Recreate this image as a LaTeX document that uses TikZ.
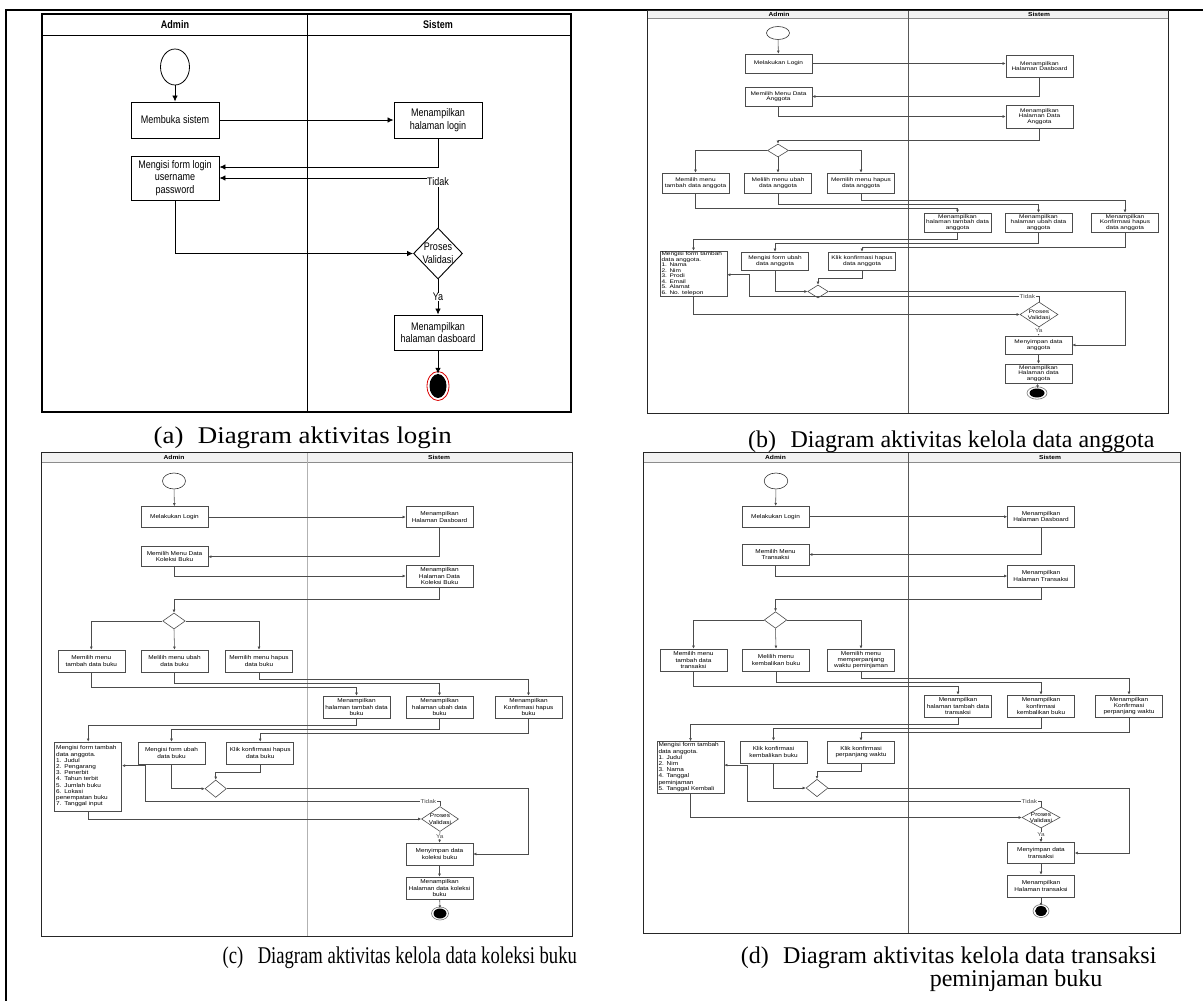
\documentclass[tikz,border=0pt]{standalone}
\usepackage{fontspec}
\setmainfont{Liberation Serif}
\newfontfamily\lanefont[FakeStretch=0.82]{Liberation Sans}
\newfontfamily\tinyfont[FakeStretch=1.15]{Liberation Sans}
\newfontfamily\squatfont[FakeStretch=1.25]{Liberation Sans}
\newfontfamily\capfont[FakeStretch=0.776]{Liberation Serif}
\newfontfamily\capwide[FakeStretch=1.12]{Liberation Serif}
\usetikzlibrary{shapes.geometric,arrows.meta,calc}

\begin{document}
\begin{tikzpicture}[x=1pt, y=-1pt,
  fa/.style={font=\lanefont\fontsize{11}{12.8}\selectfont},
  hdra/.style={font=\lanefont\bfseries\fontsize{11}{12}\selectfont},
  hdrs/.style={font=\tinyfont\bfseries\fontsize{5.8}{6}\selectfont, inner sep=0pt},
  act/.style={draw, line width=0.9pt, minimum width=88pt, minimum height=36pt,
              inner sep=1pt, align=center, fa},
  sact/.style={draw=black!70, line width=0.6pt, minimum width=67pt,
               minimum height=21pt, inner sep=1pt, align=center},
  form/.style={sact, align=left, text width=64pt, inner sep=1.5pt},
  choice/.style={diamond, draw=black!70, line width=0.6pt, inner sep=-6pt, align=center},
  initnode/.style={ellipse, draw=black!80, line width=0.6pt, inner sep=0pt},
  finalnode/.style={ellipse, fill=black, inner sep=0pt},
  lbl/.style={fill=white, inner sep=0.6pt},
  slbl/.style={lbl, font=\tinyfont\fontsize{5.6}{6}\selectfont},
  arr/.style={-{Latex[length=6pt,width=5.5pt]}, line width=0.8pt},
  sarr/.style={-{Latex[length=3pt,width=2.8pt]}, line width=0.55pt, black!70},
  captxt/.style={anchor=base west, inner sep=0pt, font=\fontsize{24}{23}\selectfont}
]
\useasboundingbox (0,0) rectangle (1203,1001);
% ---- outer table frame ----
\draw[line width=1.3pt] (6,1001) -- (6,10) -- (1203,10);

% ---- (a) login ----
\draw[line width=1.2pt] (42,14) rectangle (571,412);
\draw[line width=0.8pt] (42,35) -- (571,35);
\draw[line width=0.8pt] (307,14) -- (307,412);
\node[hdra] (a-admin) at (175,25) {Admin};
\node[hdra] (a-sistem) at (438,25) {Sistem};
\node[initnode, draw=black, line width=0.8pt, minimum width=29pt, minimum height=36pt] (a-start) at (175,67) {};
\node[act] (a-buka) at (175,120) {Membuka sistem};
\node[act] (a-login) at (438,120) {Menampilkan\\halaman login};
\node[act, minimum height=44pt] (a-isi) at (175,178) {Mengisi form login\\username\\password};
\node[choice, draw=black, line width=0.9pt, fa, minimum width=49pt, minimum height=51pt] (a-valid) at (438,253.5) {Proses\\Validasi};
\node[act, minimum height=35pt] (a-dash) at (438,332.5) {Menampilkan\\halaman dasboard};
\node[finalnode, minimum width=17pt, minimum height=24pt] (a-end) at (438,386) {};
\draw[red!85!black, line width=0.8pt] (a-end.center) ellipse [x radius=11, y radius=14.5];
\draw[arr] (a-start) -- (a-buka);
\draw[arr] (a-buka) -- (a-login);
\draw[arr] (a-login.south) |- ($(a-isi.east)+(0,-11)$);
\draw[arr] (a-valid.north) |- node[lbl, fa, pos=0.46] (a-tidak) {Tidak} (a-isi.east);
\draw[arr] (a-isi.south) |- (a-valid.west);
\draw[arr] (a-valid) -- node[lbl, fa] (a-ya) {Ya} (a-dash);
\draw[arr] (a-dash) -- (a-end);

% ---- lanes of (b), (c), (d) ----
\foreach \p/\xl/\xr/\yt/\yb/\xm/\yh/\ax/\sx/\dc in
  {b/647/1168/10/413/908/18/779/1039/black!65,
   c/41/572/452/936/307/462/174/439/black!30,
   d/643/1180/452/933/908/462/775.5/1050/black!65}{
  \fill[black!5] (\xl,\yt) rectangle (\xr,\yh);
  \draw[black!45] (\xl,\yh) -- (\xr,\yh);
  \draw[\dc, line width=0.8pt] (\xm,\yt) -- (\xm,\yb);
  \draw[black!85, line width=0.9pt] (\xl,\yt) rectangle (\xr,\yb);
  \node[hdrs] (\p-admin) at ({\ax},{(\yt+\yh)/2}) {Admin};
  \node[hdrs] (\p-sistem) at ({\sx},{(\yt+\yh)/2}) {Sistem};
}

% ---- (b) kelola data anggota ----
\begin{scope}[font=\squatfont\fontsize{5.2}{5.5}\selectfont]
\node[initnode, minimum width=23pt, minimum height=13pt] (b-start) at (778,33) {};
\node[sact, minimum height=19pt] (b-login) at (778.5,63.5) {Melakukan Login};
\node[sact, minimum height=22pt] (b-dash) at (1039.5,66) {Menampilkan\\Halaman Dasboard};
\node[sact, minimum height=19pt] (b-menu) at (778.5,96.5) {Memilih Menu Data\\Anggota};
\node[sact, minimum height=23pt] (b-data) at (1039.5,116.5) {Menampilkan\\Halaman Data\\Anggota};
\node[choice, minimum width=21pt, minimum height=13pt] (b-dec) at (778,150.5) {};
\node[sact, minimum height=20pt] (b-opt1) at (695.5,183) {Memilih menu\\tambah data anggota};
\node[sact, minimum height=20pt] (b-opt2) at (778,183) {Melilih menu ubah\\data anggota};
\node[sact, minimum height=20pt] (b-opt3) at (861,183) {Memilih menu hapus\\data anggota};
\node[sact, minimum height=19pt] (b-show1) at (957.5,222.5) {Menampilkan\\halaman tambah data\\anggota};
\node[sact, minimum height=19pt] (b-show2) at (1038.5,222.5) {Menampilkan\\halaman ubah data\\anggota};
\node[sact, minimum height=19pt] (b-show3) at (1125,222.5) {Menampilkan\\Konfirmasi hapus\\data anggota};
\node[form, minimum height=44pt, inner sep=0.8pt] (b-do1) at (693.5,273.5) {Mengisi form tambah\\data anggota.\\1. Nama\\2. Nim\\3. Prodi\\4. Email\\5. Alamat\\6. No. telepon};
\node[sact, minimum height=18pt] (b-do2) at (775,261) {Mengisi form ubah\\data anggota};
\node[sact, minimum height=18pt] (b-do3) at (862,261) {Klik konfirmasi hapus\\data anggota};
\node[choice, minimum width=20.5pt, minimum height=13pt] (b-mrg) at (818,291.5) {};
\node[choice, minimum width=38pt, minimum height=25pt] (b-pro) at (1039,314.5) {Proses\\Validasi};
\node[sact, minimum height=18pt] (b-simpan) at (1038.5,345) {Menyimpan data\\anggota};
\node[sact, minimum height=19pt] (b-tampil) at (1038.5,373.5) {Menampilkan\\Halaman data\\anggota};
\node[finalnode, minimum width=15pt, minimum height=9pt] (b-end) at (1037,393) {};
\draw[black!55, line width=0.6pt] (b-end.center) ellipse [x radius=10, y radius=6.2];
\end{scope}

% ---- (c) kelola data koleksi buku ----
\begin{scope}[font=\tinyfont\fontsize{5.6}{6.2}\selectfont]
\node[initnode, minimum width=23pt, minimum height=16pt] (c-start) at (174,481) {};
\node[sact] (c-login) at (174.5,517) {Melakukan Login};
\node[sact] (c-dash) at (439.5,517) {Menampilkan\\Halaman Dasboard};
\node[sact, minimum height=20pt] (c-menu) at (174.5,556.7) {Memilih Menu Data\\Koleksi Buku};
\node[sact, minimum height=22pt] (c-data) at (439.5,576) {Menampilkan\\Halaman Data\\Koleksi Buku};
\node[choice, minimum width=22.6pt, minimum height=16pt] (c-dec) at (174,621) {};
\node[sact, minimum height=22pt] (c-opt1) at (91.3,661) {Memilih menu\\tambah data buku};
\node[sact, minimum height=22pt] (c-opt2) at (174.5,661) {Melilih menu ubah\\data buku};
\node[sact, minimum height=22pt] (c-opt3) at (259,661) {Memilih menu hapus\\data buku};
\node[sact, minimum height=22pt] (c-show1) at (356.5,707) {Menampilkan\\halaman tambah data\\buku};
\node[sact, minimum height=22pt] (c-show2) at (439.5,707) {Menampilkan\\halaman ubah data\\buku};
\node[sact, minimum height=22pt] (c-show3) at (528.5,707) {Menampilkan\\Konfirmasi hapus\\buku};
\node[form, minimum height=69pt] (c-do1) at (88.2,776.4) {Mengisi form tambah\\data anggota.\\1. Judul\\2. Pengarang\\3. Penerbit\\4. Tahun terbit\\5. Jumlah buku\\6. Lokasi\\penempatan buku\\7. Tanggal input};
\node[sact, minimum height=22pt] (c-do2) at (171.5,753) {Mengisi form ubah\\data buku};
\node[sact, minimum height=22pt] (c-do3) at (260.2,753) {Klik konfirmasi hapus\\data buku};
\node[choice, minimum width=21.4pt, minimum height=17.4pt] (c-mrg) at (215.7,788.7) {};
\node[choice, minimum width=37pt, minimum height=25pt] (c-pro) at (440,819) {Proses\\Validasi};
\node[sact, minimum height=22pt] (c-simpan) at (439.5,854) {Menyimpan data\\koleksi buku};
\node[sact, minimum height=22pt] (c-tampil) at (439.5,888) {Menampilkan\\Halaman data koleksi\\buku};
\node[finalnode, minimum width=13pt, minimum height=10pt] (c-end) at (440,913.5) {};
\draw[black!55, line width=0.6pt] (c-end.center) ellipse [x radius=8.5, y radius=6.5];
\end{scope}

% ---- (d) kelola data transaksi ----
\begin{scope}[font=\tinyfont\fontsize{5.6}{6.2}\selectfont]
\node[initnode, minimum width=23.6pt, minimum height=16pt] (d-start) at (776,481) {};
\node[sact] (d-login) at (775.5,516.7) {Melakukan Login};
\node[sact] (d-dash) at (1041,516.7) {Menampilkan\\Halaman Dasboard};
\node[sact] (d-menu) at (775.5,554.5) {Memilih Menu\\Transaksi};
\node[sact, minimum height=22pt] (d-data) at (1041,576) {Menampilkan\\Halaman Transaksi};
\node[choice, minimum width=22.6pt, minimum height=16.6pt] (d-dec) at (775.5,620) {};
\node[sact, minimum height=22pt] (d-opt1) at (693.5,660) {Memilih menu\\tambah data\\transaksi};
\node[sact, minimum height=22pt] (d-opt2) at (776,660) {Melilih menu\\kembalikan buku};
\node[sact, minimum height=22pt] (d-opt3) at (861,660) {Memilih menu\\memperpanjang\\waktu peminjaman};
\node[sact, minimum height=22pt] (d-show1) at (958,706) {Menampilkan\\halaman tambah data\\transaksi};
\node[sact, minimum height=22pt] (d-show2) at (1041,706) {Menampilkan\\konfirmasi\\kembalikan buku};
\node[sact, minimum height=22pt] (d-show3) at (1129,706) {Menampilkan\\Konfirmasi\\perpanjang waktu};
\node[form, minimum height=51pt] (d-do1) at (690.5,767.2) {Mengisi form tambah\\data anggota.\\1. Judul\\2. Nim\\3. Nama\\4. Tanggal\\peminjaman\\5. Tanggal Kembali};
\node[sact, minimum height=22pt] (d-do2) at (773.5,752) {Klik konfirmasi\\kembalikan buku};
\node[sact, minimum height=22pt] (d-do3) at (861,752) {Klik konfirmasi\\perpanjang waktu};
\node[choice, minimum width=22pt, minimum height=17.4pt] (d-mrg) at (817,788) {};
\node[choice, minimum width=38pt, minimum height=21pt] (d-pro) at (1041,817.5) {Proses\\Validasi};
\node[sact] (d-simpan) at (1041,853) {Menyimpan data\\transaksi};
\node[sact, minimum height=22pt] (d-tampil) at (1041,886) {Menampilkan\\Halaman transaksi};
\node[finalnode, minimum width=12pt, minimum height=10pt] (d-end) at (1041,911) {};
\draw[black!55, line width=0.6pt] (d-end.center) ellipse [x radius=8, y radius=6.5];
\end{scope}

% ---- same flow in (b), (c), (d) ----
\foreach \p in {b,c,d}{
  \draw[sarr] (\p-start) -- (\p-login);
  \draw[sarr] (\p-login.east) -- (\p-login.east -| \p-dash.west);
  \draw[sarr] (\p-dash.south) |- (\p-menu.east);
  \draw[sarr] (\p-menu.south) |- (\p-data.west);
  \draw[sarr] (\p-data.south) -- ++(0,12) -| (\p-dec.north);
  \draw[sarr] (\p-dec.west) -| (\p-opt1.north);
  \draw[sarr] (\p-dec.south) -- (\p-opt2.north);
  \draw[sarr] (\p-dec.east) -| (\p-opt3.north);
  \draw[sarr] (\p-opt1.south) -- ++(0,15) -| (\p-show1.north);
  \draw[sarr] (\p-opt2.south) -- ++(0,11) -| (\p-show2.north);
  \draw[sarr] (\p-opt3.south) -- ++(0,7) -| (\p-show3.north);
  \draw[sarr] (\p-show1.south) -- ++(0,7) -| (\p-do1.north);
  \draw[sarr] (\p-show2.south) -- ++(0,11) -| (\p-do2.north);
  \draw[sarr] (\p-show3.south) -- ++(0,15) -| (\p-do3.north);
  \draw[sarr] (\p-do3.south) -- ++(0,8) -| (\p-mrg.north);
  \draw[sarr] (\p-do2.south) |- (\p-mrg.west);
  \draw[sarr] (\p-mrg.east) -- (\p-mrg.east -| \p-show3.south) |- (\p-simpan.east);
  \draw[sarr] (\p-pro.north) -- ++(0,-5) node[slbl, anchor=east, xshift=-3pt] (\p-tidak) {Tidak}
    -| ($(\p-do2.west |- \p-do1.north)+(8,24)$) -- ($(\p-do1.north east)+(0,24)$);
  \draw[sarr] (\p-do1.south) |- (\p-pro.west);
  \draw[sarr] (\p-pro.south) -- node[slbl, pos=0.45] (\p-ya) {Ya} (\p-simpan.north);
  \draw[sarr] (\p-simpan) -- (\p-tampil);
  \draw[sarr] (\p-tampil) -- (\p-end);
}

% ---- captions ----
\node[captxt, font=\capwide\fontsize{24}{23}\selectfont] (cap-a) at (153.5,443) {(a)\hspace{0.6em}Diagram aktivitas login};
\node[captxt] (cap-b) at (748,447) {(b)\hspace{0.6em}Diagram aktivitas kelola data anggota};
\node[captxt, font=\capfont\fontsize{24}{23}\selectfont] (cap-c) at (222.5,963)
  {(c)\hspace{0.6em}Diagram aktivitas kelola data koleksi buku};
\node[captxt, align=left] (cap-d) at (740.6,986)
  {(d)\hspace{0.6em}Diagram aktivitas kelola data transaksi\\\hspace*{189pt}peminjaman buku};
\end{tikzpicture}
\end{document}
